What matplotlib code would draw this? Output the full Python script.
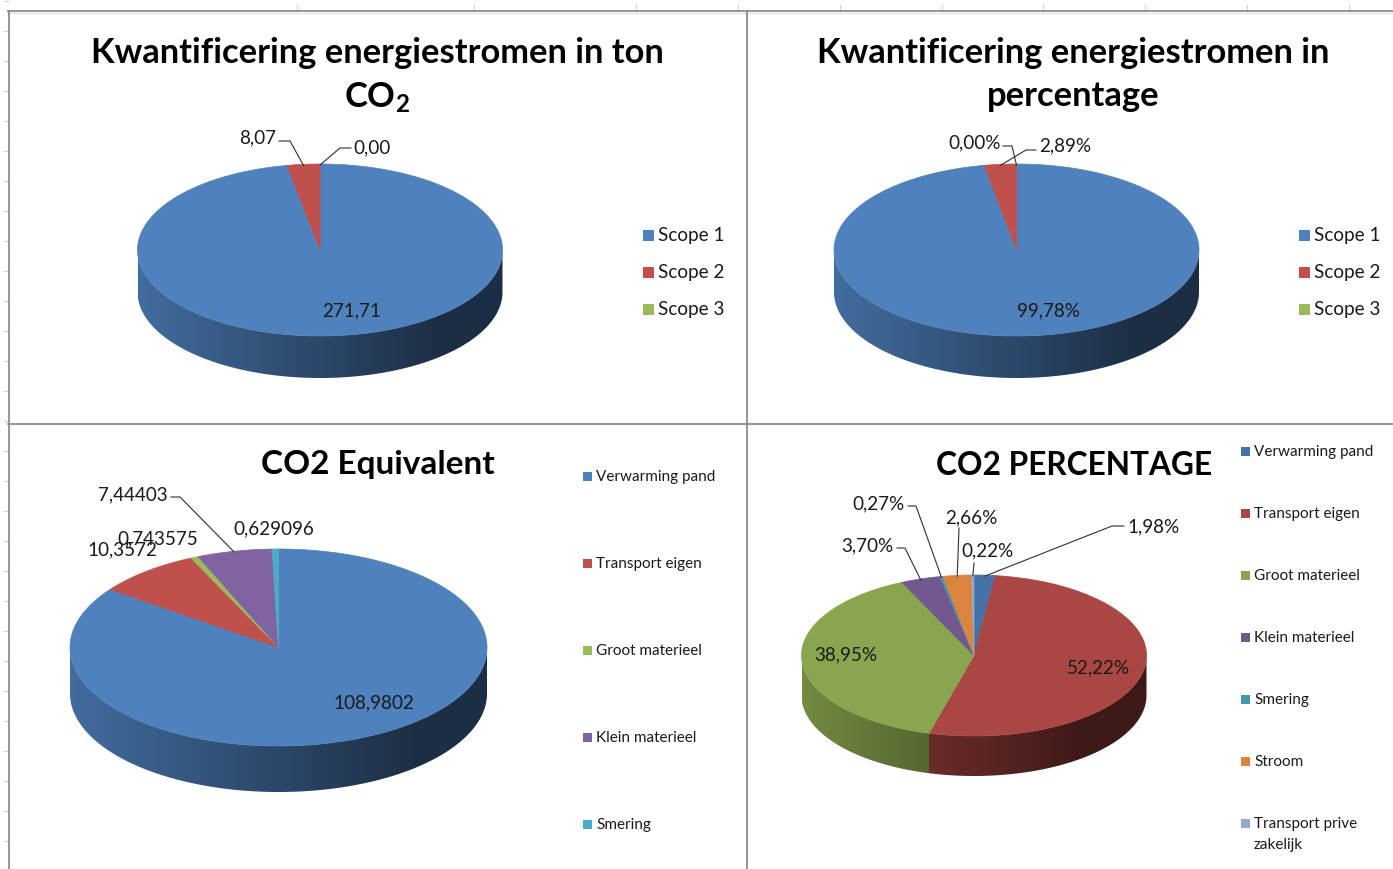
import numpy as np
import matplotlib
matplotlib.use('Agg')
import matplotlib.pyplot as plt
from matplotlib.patches import Polygon, Rectangle
from matplotlib.colors import to_rgb

plt.rcParams['font.family'] = ['Lato', 'DejaVu Sans']

## Data
scope_labels = ['Scope 1', 'Scope 2', 'Scope 3']
scope_ton = [271.71, 8.07, 0.00]
scope_pct = [99.78, 2.89, 0.00]

eq_labels = ['Verwarming pand', 'Transport eigen', 'Groot materieel', 'Klein materieel', 'Smering']
eq_values = [108.9802, 10.3572, 0.743575, 7.44403, 0.629096]

pct_labels = ['Verwarming pand', 'Transport eigen', 'Groot materieel', 'Klein materieel',
              'Smering', 'Stroom', 'Transport prive\nzakelijk']
pct_values = [1.98, 52.22, 38.95, 3.70, 0.27, 2.66, 0.22]

colors_a = ['#4F81BD', '#C0504D', '#9BBB59', '#8064A2', '#4BACC6']
colors_b = ['#4572A7', '#AA4643', '#89A54E', '#71588F', '#4198AF', '#DB843D', '#93A9CF']

W, H = 1393, 870
fig = plt.figure(figsize=(W / 100, H / 100), dpi=100)
ax = fig.add_axes([0, 0, 1, 1])
ax.set_xlim(0, W)
ax.set_ylim(H, 0)
ax.axis('off')

## spreadsheet grid peeking out at the edges
grid_cols = [297, 474, 636, 738, 840, 942, 1043, 1145, 1247, 1349]
for gx in grid_cols:
    ax.plot([gx, gx], [6, 12], color='#d0d0d0', lw=0.8)
for gy in range(2, H, 30):
    ax.plot([4, 8], [gy, gy], color='#d0d0d0', lw=0.8)

## chart frames
ax.plot([8, W], [12, 12], color='#8c8c8c', lw=1.3)
ax.plot([8, W], [14, 14], color='#e0e0e0', lw=0.8)
ax.plot([8.5, 8.5], [12, H], color='#8c8c8c', lw=1.3)
ax.plot([746.5, 746.5], [12, H], color='#8c8c8c', lw=1.3)
ax.plot([8, W], [424.5, 424.5], color='#8c8c8c', lw=1.3)


def side_factor(t):
    ## lighter on the left of the wall, darkest toward the right
    return np.maximum(0.36, 0.84 - 0.58 * t)


def pie3d(values, colors, cx, cy, rx, ry, depth):
    total = float(sum(values))
    edges = np.concatenate([[0], np.cumsum(values)]) / total * 2 * np.pi
    tt = np.linspace(0, 1, 400)
    fac = side_factor(tt)
    ## side wall (front half only) as a clipped gradient
    for i in range(len(values)):
        lo = max(edges[i], np.pi / 2)
        hi = min(edges[i + 1], 3 * np.pi / 2)
        if hi <= lo:
            continue
        ts = np.linspace(lo, hi, max(3, int((hi - lo) * 100)))
        top = [(cx + rx * np.sin(t), cy - ry * np.cos(t)) for t in ts]
        bot = [(x, y + depth) for x, y in top[::-1]]
        wall = Polygon(top + bot, closed=True, facecolor='none', edgecolor='none')
        ax.add_patch(wall)
        rgb = np.array(to_rgb(colors[i]))
        img = (fac[:, None] * rgb[None, :])[None, :, :]
        im = ax.imshow(img, extent=(cx - rx, cx + rx, cy + ry + depth + 2, cy - ry),
                       aspect='auto', interpolation='bilinear', zorder=1)
        im.set_clip_path(wall)
    ax.set_xlim(0, W)
    ax.set_ylim(H, 0)
    ## top face
    for i in range(len(values)):
        if values[i] <= 0:
            continue
        ts = np.linspace(edges[i], edges[i + 1], max(3, int((edges[i + 1] - edges[i]) * 100)))
        pts = [(cx, cy)] + [(cx + rx * np.sin(t), cy - ry * np.cos(t)) for t in ts]
        ax.add_patch(Polygon(pts, closed=True, facecolor=colors[i], edgecolor=colors[i],
                             lw=0.5, zorder=2))
    return edges


def rim(edges, i, cx, cy, rx, ry):
    t = (edges[i] + edges[i + 1]) / 2
    return cx + rx * np.sin(t), cy - ry * np.cos(t)


def labels(texts, places, edges, geo, size):
    cx, cy, rx, ry, depth = geo
    for i, (txt, pl) in enumerate(zip(texts, places)):
        tx, ty, ha, lead = pl
        ax.text(tx, ty, txt, fontsize=size, ha=ha, va='center', color='#1a1a1a', zorder=4)
        if lead:
            ax_, ay_ = rim(edges, i, cx, cy, rx, ry)
            xs = [p[0] for p in lead] + [ax_]
            ys = [p[1] for p in lead] + [ay_ + 1]
            ax.plot(xs, ys, color='#303030', lw=0.8, zorder=3)


def legend(names, colors, x, ys, box, size, step=21):
    for n, c, y in zip(names, colors, ys):
        ax.add_patch(Rectangle((x, y - box / 2), box, box, facecolor=c, edgecolor='none'))
        for k, line in enumerate(n.split('\n')):
            ax.text(x + box + 4, y + k * step, line, fontsize=size, ha='left', va='center',
                    color='#1a1a1a')


## layout
geo1 = (320, 251, 182.5, 86, 42)
geo2 = (1016.5, 251, 182.5, 86, 42)
geo3 = (278.5, 648.5, 208.5, 98.5, 46)
geo4 = (974, 656.5, 172.5, 80.5, 40)

## chart 1
ax.text(377, 53, 'Kwantificering energiestromen in ton', fontsize=24.8, weight='bold',
        ha='center', va='center')
ax.text(377, 98, 'CO$_\\mathdefault{2}$', fontsize=24.8, weight='bold', ha='center', va='center')
e1 = pie3d(scope_ton, colors_a, *geo1)
lab1 = [('%.2f' % v).replace('.', ',') for v in scope_ton]
pos1 = [(352, 311, 'center', None),
        (276, 138, 'right', [(279, 142), (290, 142)]),
        (353, 148, 'left', [(351, 149), (340, 149)])]
labels(lab1, pos1, e1, geo1, 13.6)
legend(scope_labels, colors_a, 643, [236, 273, 310], 11, 13.6)

## chart 2
ax.text(1073, 53, 'Kwantificering energiestromen in', fontsize=24.8, weight='bold',
        ha='center', va='center')
ax.text(1073, 96, 'percentage', fontsize=24.8, weight='bold', ha='center', va='center')
e2 = pie3d(scope_pct, colors_a, *geo2)
lab2 = [('%.2f%%' % v).replace('.', ',') for v in scope_pct]
pos2 = [(1048, 311, 'center', None),
        (1039, 146, 'left', [(1036, 151), (1026, 151)]),
        (1001, 143, 'right', [(1003, 147), (1012, 147)])]
labels(lab2, pos2, e2, geo2, 13.6)
legend(scope_labels, colors_a, 1299, [236, 273, 310], 11, 13.6)

## chart 3
ax.text(378, 465, 'CO2 Equivalent', fontsize=24, weight='bold', ha='center', va='center')
e3 = pie3d(eq_values, colors_a, *geo3)
lab3 = [str(v).replace('.', ',') for v in eq_values]
pos3 = [(374, 703, 'center', None),
        (122, 550, 'center', None),
        (158, 539, 'center', None),
        (168, 495, 'right', [(171, 498), (180, 498)]),
        (274, 529, 'center', None)]
labels(lab3, pos3, e3, geo3, 13.6)
legend(eq_labels, colors_a, 583, [477, 564, 651, 738, 825], 9, 11)

## chart 4
ax.text(1074, 466, 'CO2 PERCENTAGE', fontsize=22.8, weight='bold', ha='center', va='center')
e4 = pie3d(pct_values, colors_b, *geo4)
lab4 = [('%.2f%%' % v).replace('.', ',') for v in pct_values]
pos4 = [(1127, 527, 'left', [(1124, 527), (1112, 527)]),
        (1098, 668, 'center', None),
        (846, 655, 'center', None),
        (894, 546, 'right', [(897, 549), (905, 549)]),
        (905, 504, 'right', [(908, 507), (916, 507)]),
        (971, 518, 'center', [(959, 529)]),
        (988, 551, 'center', [(974, 564)])]
labels(lab4, pos4, e4, geo4, 13.6)
legend(pct_labels, colors_b, 1241, [452, 514, 576, 638, 700, 762, 824], 9, 11)

fig.savefig('out.png', dpi=100, facecolor='white')
